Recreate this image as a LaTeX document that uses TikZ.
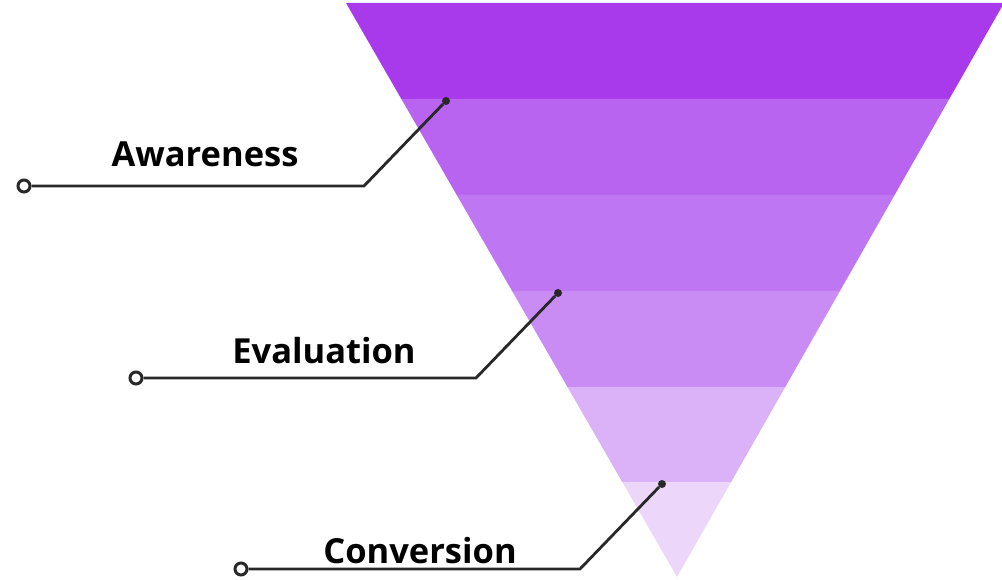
\documentclass[tikz,border=0pt]{standalone}
\usepackage{fontspec}
\setmainfont{Open Sans}
\definecolor{bandA}{RGB}{169,58,235}
\definecolor{bandB}{RGB}{185,100,240}
\definecolor{bandC}{RGB}{190,118,242}
\definecolor{bandD}{RGB}{201,139,244}
\definecolor{bandE}{RGB}{219,178,248}
\definecolor{bandF}{RGB}{236,215,251}
\definecolor{wire}{RGB}{40,40,40}
\tikzset{
  stage/.style={font=\bfseries\fontsize{34.5}{40}\selectfont, anchor=base, inner sep=0pt},
  enddot/.style={circle, fill=wire, inner sep=0pt, minimum size=8pt},
  opendot/.style={circle, draw=wire, line width=3pt, fill=white, inner sep=0pt, minimum size=12pt},
  wireline/.style={draw=wire, line width=2.8pt}
}
\begin{document}
\begin{tikzpicture}[x=1pt,y=-1pt]
  \useasboundingbox (0,0) rectangle (1002,580);

  % funnel bands
  \foreach \ya/\yb/\c in {3/99/bandA,99/195/bandB,195/291/bandC,291/387/bandD,387/482/bandE,482/577/bandF}
    \fill[\c] ({346+0.5767*(\ya-3)},\ya) -- ({1004-0.5697*(\ya-3)},\ya)
      -- ({1004-0.5697*(\yb-3)},\yb) -- ({346+0.5767*(\yb-3)},\yb) -- cycle;

  % labels
  \node (aw) [stage] at (205,167) {Awareness};
  \node (ev) [stage] at (324,363) {Evaluation};
  \node (co) [stage] at (420,563) {Conversion};

  % pointers
  \node (aw0) [enddot] at (446,101) {};
  \node (ev0) [enddot] at (558,293) {};
  \node (co0) [enddot] at (662,484) {};
  \coordinate (aw1) at (364,186);
  \coordinate (ev1) at (476,378);
  \coordinate (co1) at (580,569);
  \node (aw2) [opendot] at (24,186) {};
  \node (ev2) [opendot] at (136,378) {};
  \node (co2) [opendot] at (241,569) {};

  \foreach \n in {aw,ev,co}
    \draw[wireline] (\n0) -- (\n1) -- (\n2);
\end{tikzpicture}
\end{document}
